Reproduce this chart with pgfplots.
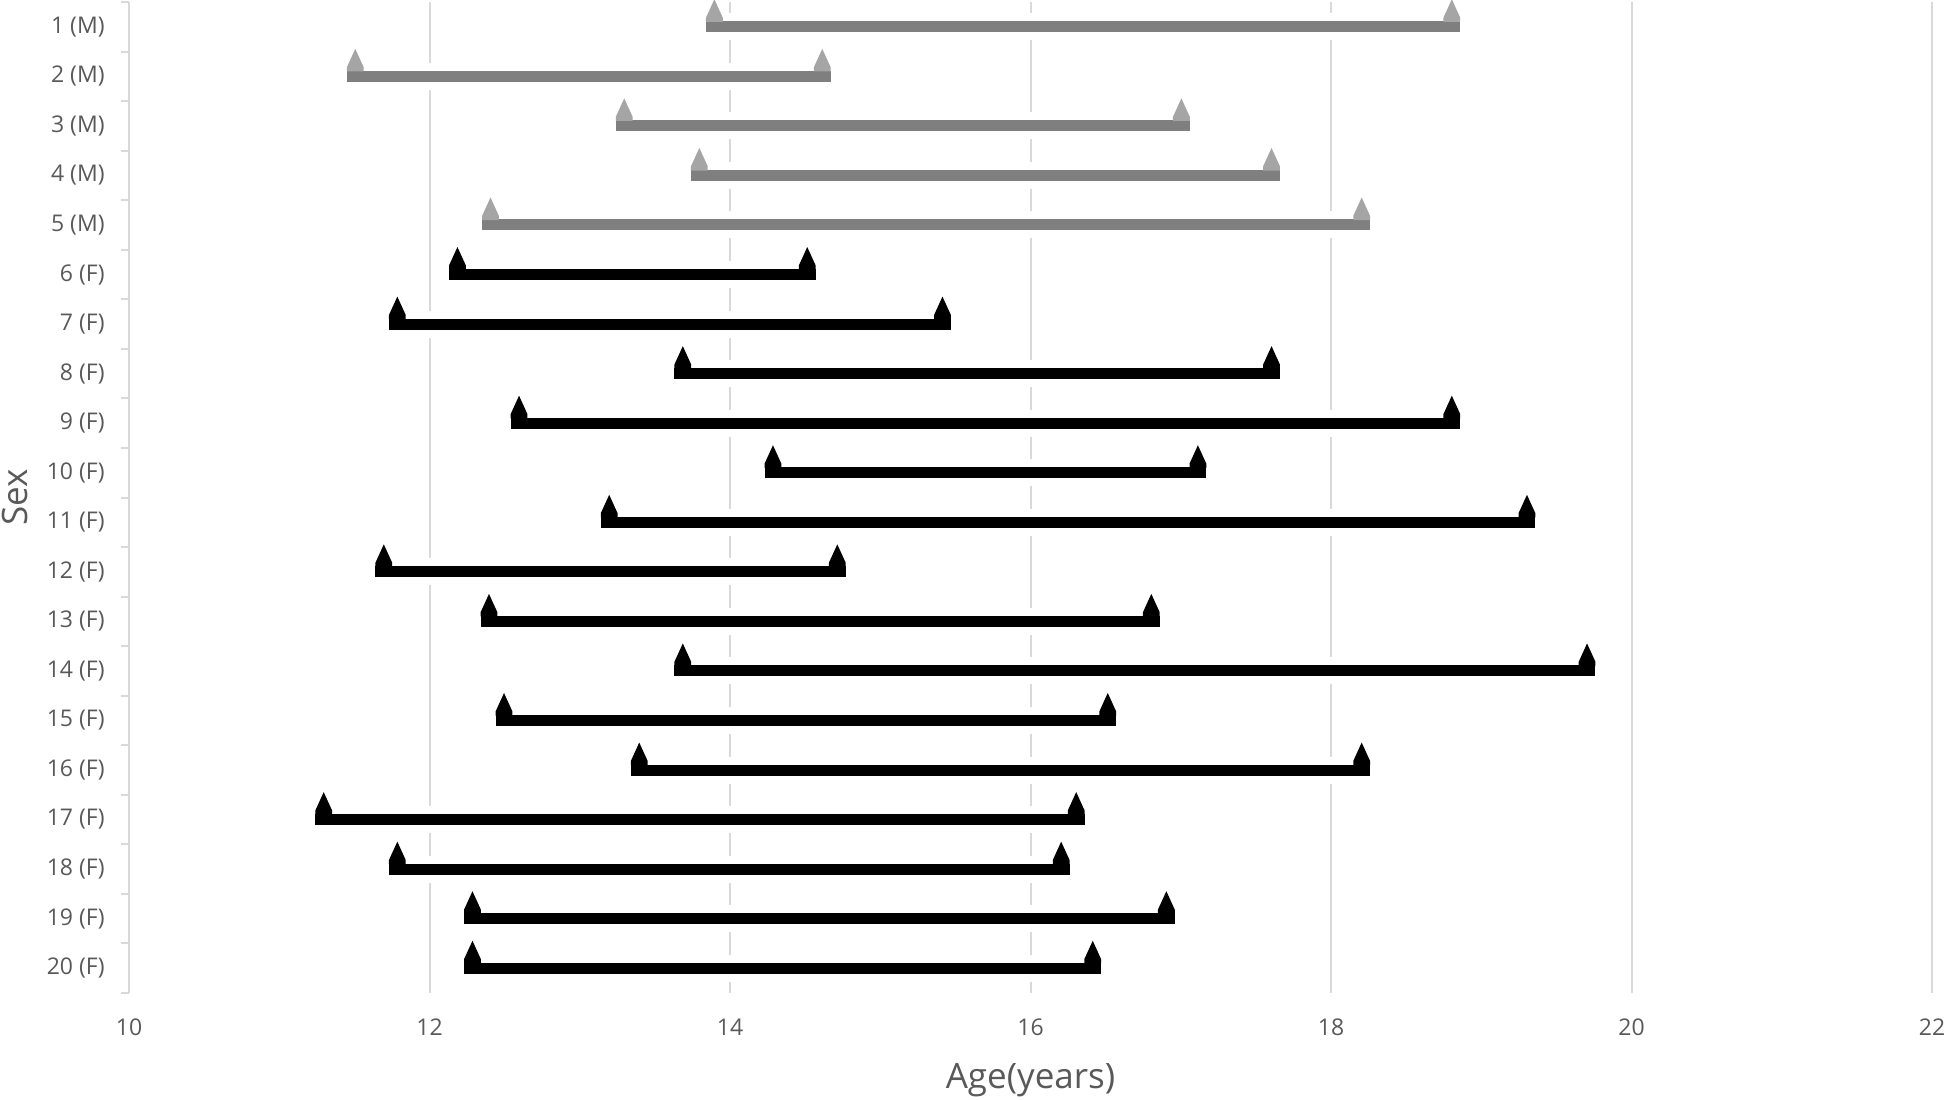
\documentclass[border=0pt]{standalone}
\usepackage{fontspec}
\setmainfont{Open Sans}
\usepackage{pgfplots}
\pgfplotsset{compat=1.18}
\usepackage{pgfplotstable}
\definecolor{gridgray}{HTML}{D9D9D9}
\definecolor{textgray}{HTML}{595959}
\definecolor{mbar}{HTML}{7F7F7F}
\definecolor{mtri}{HTML}{A5A5A5}

% triangle sitting on the bar: base centre at the origin
\pgfdeclareplotmark{tri}{%
  \pgfpathmoveto{\pgfqpoint{-4.2pt}{-0.3pt}}%
  \pgfpathlineto{\pgfqpoint{4.2pt}{-0.3pt}}%
  \pgfpathlineto{\pgfqpoint{4.2pt}{1.8pt}}%
  \pgfpathlineto{\pgfqpoint{0pt}{11pt}}%
  \pgfpathlineto{\pgfqpoint{-4.2pt}{1.8pt}}%
  \pgfpathclose
  \pgfusepathqfill}

% age at start and end of each subject's interval
\pgfplotstableread{
row start end
1 13.84 18.86
2 11.45 14.67
3 13.24 17.06
4 13.74 17.66
5 12.35 18.26
}\males
\pgfplotstableread{
row start end
6 12.13 14.57
7 11.73 15.47
8 13.63 17.66
9 12.54 18.86
10 14.23 17.17
11 13.14 19.36
12 11.64 14.77
13 12.34 16.86
14 13.63 19.76
15 12.44 16.57
16 13.34 18.26
17 11.24 16.36
18 11.73 16.26
19 12.23 16.96
20 12.23 16.47
}\females

\pgfplotsset{
  seg/.style 2 args={draw=none, mark=none,
    error bars/.cd, x dir=plus, x explicit, error mark=none,
    error bar style={draw=#2, line width=#1}},
}

\begin{document}
\begin{tikzpicture}
\useasboundingbox (0,0) rectangle (973pt,549.5pt);
\begin{axis}[
  at={(64.5pt,53pt)}, anchor=south west, scale only axis,
  width=901.5pt, height=495.5pt,
  xmin=10, xmax=22, ymin=0.5, ymax=20.5, y dir=reverse,
  clip=false,
  separate axis lines,
  x axis line style={draw=none},
  y axis line style={draw=gridgray, line width=1pt},
  xtick={10,12,...,22},
  ytick={1,...,20},
  yticklabels={1 (M),2 (M),3 (M),4 (M),5 (M),6 (F),7 (F),8 (F),9 (F),10 (F),
    11 (F),12 (F),13 (F),14 (F),15 (F),16 (F),17 (F),18 (F),19 (F),20 (F)},
  minor ytick={0.5,1.5,...,20.5},
  ytick pos=left, xtick pos=left,
  tick align=outside, major tick length=0pt, minor tick length=4pt,
  tick style={gridgray, line width=1pt},
  xmajorgrids, major grid style={gridgray, line width=1pt},
  /pgf/number format/assume math mode=true,
  tick label style={font=\fontsize{11.5}{13}\selectfont, text=textgray},
  yticklabel style={anchor=east, inner sep=0pt, xshift=-12pt},
  xticklabel style={anchor=center, inner sep=0pt, yshift=-17pt},
]
% white bands that break the grid lines behind each interval
\addplot[seg={13.5pt}{white}] table[x=start, y=row, x error expr=\thisrow{end}-\thisrow{start}] {\males};
\addplot[seg={13.5pt}{white}] table[x=start, y=row, x error expr=\thisrow{end}-\thisrow{start}] {\females};
% the intervals
\addplot[seg={5.5pt}{mbar}] table[x=start, y=row, x error expr=\thisrow{end}-\thisrow{start}] {\males};
\addplot[seg={5.5pt}{black}] table[x=start, y=row, x error expr=\thisrow{end}-\thisrow{start}] {\females};
% end markers
\addplot[only marks, mark=tri, color=mtri, mark options={xshift=4.2pt, yshift=2.75pt}] table[x=start, y=row] {\males};
\addplot[only marks, mark=tri, color=mtri, mark options={xshift=-4.2pt, yshift=2.75pt}] table[x=end, y=row] {\males};
\addplot[only marks, mark=tri, color=black, mark options={xshift=4.2pt, yshift=2.75pt}] table[x=start, y=row] {\females};
\addplot[only marks, mark=tri, color=black, mark options={xshift=-4.2pt, yshift=2.75pt}] table[x=end, y=row] {\females};
\end{axis}
\node[font=\fontsize{17.5}{21}\selectfont, text=textgray, anchor=base] at (515.25pt,5.5pt) {Age(years)};
\node[font=\fontsize{17.5}{21}\selectfont, text=textgray, anchor=base, rotate=90] at (13.5pt,300.75pt) {Sex};
\end{tikzpicture}
\end{document}
